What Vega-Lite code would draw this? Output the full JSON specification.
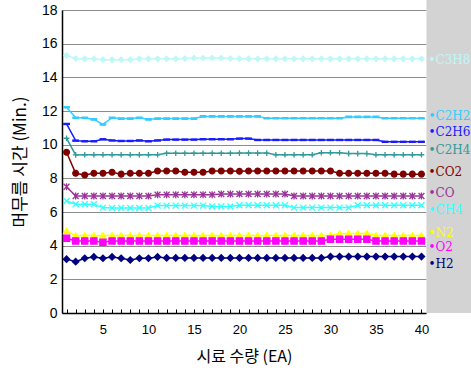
{
  "$schema": "https://vega.github.io/schema/vega-lite/v6.json",
  "width": 364,
  "height": 303,
  "autosize": {"type": "none"},
  "padding": {"left": 62, "top": 10, "right": 45, "bottom": 58},
  "background": "white",
  "config": {"view": {"stroke": null}, "axis": {"labelOverlap": false, "labelFlush": false, "labelBound": false}},
  "datasets": {
    "wide": [
      {"x":1,"C3H8":15.3,"C2H2":12.22,"C2H6":11.23,"C2H4":10.38,"CO2":9.55,"CO":7.5,"CH4":6.65,"N2":4.87,"O2":4.44,"H2":3.2},
      {"x":2,"C3H8":15.12,"C2H2":11.6,"C2H6":10.24,"C2H4":9.39,"CO2":8.3,"CO":6.95,"CH4":6.46,"N2":4.6,"O2":4.28,"H2":3.05},
      {"x":3,"C3H8":15.1,"C2H2":11.6,"C2H6":10.2,"C2H4":9.4,"CO2":8.2,"CO":6.95,"CH4":6.46,"N2":4.6,"O2":4.28,"H2":3.25},
      {"x":4,"C3H8":15.1,"C2H2":11.5,"C2H6":10.2,"C2H4":9.4,"CO2":8.3,"CO":6.95,"CH4":6.46,"N2":4.6,"O2":4.28,"H2":3.33},
      {"x":5,"C3H8":15.05,"C2H2":11.2,"C2H6":10.32,"C2H4":9.4,"CO2":8.3,"CO":6.95,"CH4":6.26,"N2":4.6,"O2":4.2,"H2":3.25},
      {"x":6,"C3H8":15.05,"C2H2":11.6,"C2H6":10.25,"C2H4":9.4,"CO2":8.36,"CO":6.95,"CH4":6.24,"N2":4.6,"O2":4.28,"H2":3.33},
      {"x":7,"C3H8":15.05,"C2H2":11.55,"C2H6":10.22,"C2H4":9.4,"CO2":8.25,"CO":6.95,"CH4":6.24,"N2":4.6,"O2":4.28,"H2":3.25},
      {"x":8,"C3H8":15.05,"C2H2":11.55,"C2H6":10.22,"C2H4":9.4,"CO2":8.3,"CO":6.95,"CH4":6.24,"N2":4.6,"O2":4.28,"H2":3.15},
      {"x":9,"C3H8":15.1,"C2H2":11.6,"C2H6":10.25,"C2H4":9.4,"CO2":8.3,"CO":6.95,"CH4":6.24,"N2":4.6,"O2":4.28,"H2":3.25},
      {"x":10,"C3H8":15.1,"C2H2":11.5,"C2H6":10.2,"C2H4":9.4,"CO2":8.3,"CO":6.95,"CH4":6.24,"N2":4.6,"O2":4.28,"H2":3.25},
      {"x":11,"C3H8":15.1,"C2H2":11.55,"C2H6":10.25,"C2H4":9.4,"CO2":8.44,"CO":7.03,"CH4":6.38,"N2":4.6,"O2":4.28,"H2":3.33},
      {"x":12,"C3H8":15.1,"C2H2":11.55,"C2H6":10.3,"C2H4":9.49,"CO2":8.44,"CO":7.03,"CH4":6.38,"N2":4.6,"O2":4.28,"H2":3.27},
      {"x":13,"C3H8":15.1,"C2H2":11.55,"C2H6":10.3,"C2H4":9.49,"CO2":8.44,"CO":7.03,"CH4":6.38,"N2":4.6,"O2":4.28,"H2":3.27},
      {"x":14,"C3H8":15.12,"C2H2":11.55,"C2H6":10.3,"C2H4":9.49,"CO2":8.36,"CO":7.03,"CH4":6.38,"N2":4.6,"O2":4.28,"H2":3.27},
      {"x":15,"C3H8":15.15,"C2H2":11.55,"C2H6":10.3,"C2H4":9.49,"CO2":8.36,"CO":7.03,"CH4":6.38,"N2":4.6,"O2":4.28,"H2":3.27},
      {"x":16,"C3H8":15.15,"C2H2":11.68,"C2H6":10.32,"C2H4":9.49,"CO2":8.36,"CO":7.03,"CH4":6.38,"N2":4.6,"O2":4.28,"H2":3.27},
      {"x":17,"C3H8":15.15,"C2H2":11.68,"C2H6":10.32,"C2H4":9.49,"CO2":8.44,"CO":7.03,"CH4":6.33,"N2":4.6,"O2":4.28,"H2":3.27},
      {"x":18,"C3H8":15.15,"C2H2":11.68,"C2H6":10.32,"C2H4":9.49,"CO2":8.44,"CO":7.07,"CH4":6.33,"N2":4.6,"O2":4.28,"H2":3.27},
      {"x":19,"C3H8":15.12,"C2H2":11.68,"C2H6":10.32,"C2H4":9.49,"CO2":8.44,"CO":7.07,"CH4":6.33,"N2":4.6,"O2":4.28,"H2":3.27},
      {"x":20,"C3H8":15.1,"C2H2":11.68,"C2H6":10.36,"C2H4":9.5,"CO2":8.42,"CO":7.07,"CH4":6.4,"N2":4.6,"O2":4.28,"H2":3.27},
      {"x":21,"C3H8":15.1,"C2H2":11.68,"C2H6":10.36,"C2H4":9.5,"CO2":8.44,"CO":7.07,"CH4":6.4,"N2":4.6,"O2":4.28,"H2":3.27},
      {"x":22,"C3H8":15.1,"C2H2":11.68,"C2H6":10.28,"C2H4":9.5,"CO2":8.44,"CO":7.07,"CH4":6.4,"N2":4.6,"O2":4.28,"H2":3.27},
      {"x":23,"C3H8":15.1,"C2H2":11.57,"C2H6":10.28,"C2H4":9.5,"CO2":8.44,"CO":7.07,"CH4":6.4,"N2":4.6,"O2":4.28,"H2":3.27},
      {"x":24,"C3H8":15.1,"C2H2":11.57,"C2H6":10.28,"C2H4":9.4,"CO2":8.44,"CO":7.07,"CH4":6.4,"N2":4.6,"O2":4.28,"H2":3.27},
      {"x":25,"C3H8":15.1,"C2H2":11.57,"C2H6":10.28,"C2H4":9.4,"CO2":8.44,"CO":7.07,"CH4":6.4,"N2":4.6,"O2":4.28,"H2":3.27},
      {"x":26,"C3H8":15.1,"C2H2":11.57,"C2H6":10.28,"C2H4":9.4,"CO2":8.44,"CO":6.95,"CH4":6.26,"N2":4.6,"O2":4.28,"H2":3.27},
      {"x":27,"C3H8":15.1,"C2H2":11.57,"C2H6":10.28,"C2H4":9.4,"CO2":8.44,"CO":6.95,"CH4":6.26,"N2":4.6,"O2":4.28,"H2":3.27},
      {"x":28,"C3H8":15.1,"C2H2":11.57,"C2H6":10.28,"C2H4":9.4,"CO2":8.44,"CO":6.95,"CH4":6.26,"N2":4.6,"O2":4.28,"H2":3.27},
      {"x":29,"C3H8":15.1,"C2H2":11.57,"C2H6":10.28,"C2H4":9.52,"CO2":8.44,"CO":6.95,"CH4":6.26,"N2":4.6,"O2":4.28,"H2":3.27},
      {"x":30,"C3H8":15.1,"C2H2":11.57,"C2H6":10.28,"C2H4":9.52,"CO2":8.44,"CO":6.95,"CH4":6.26,"N2":4.6,"O2":4.38,"H2":3.35},
      {"x":31,"C3H8":15.1,"C2H2":11.57,"C2H6":10.28,"C2H4":9.52,"CO2":8.3,"CO":6.95,"CH4":6.26,"N2":4.73,"O2":4.38,"H2":3.35},
      {"x":32,"C3H8":15.1,"C2H2":11.65,"C2H6":10.28,"C2H4":9.47,"CO2":8.3,"CO":6.95,"CH4":6.26,"N2":4.73,"O2":4.38,"H2":3.35},
      {"x":33,"C3H8":15.1,"C2H2":11.65,"C2H6":10.28,"C2H4":9.47,"CO2":8.3,"CO":6.95,"CH4":6.4,"N2":4.73,"O2":4.38,"H2":3.35},
      {"x":34,"C3H8":15.1,"C2H2":11.65,"C2H6":10.28,"C2H4":9.47,"CO2":8.3,"CO":6.95,"CH4":6.4,"N2":4.73,"O2":4.38,"H2":3.35},
      {"x":35,"C3H8":15.1,"C2H2":11.65,"C2H6":10.28,"C2H4":9.4,"CO2":8.3,"CO":6.95,"CH4":6.4,"N2":4.6,"O2":4.28,"H2":3.35},
      {"x":36,"C3H8":15.1,"C2H2":11.57,"C2H6":10.17,"C2H4":9.4,"CO2":8.3,"CO":6.95,"CH4":6.4,"N2":4.6,"O2":4.28,"H2":3.35},
      {"x":37,"C3H8":15.1,"C2H2":11.57,"C2H6":10.17,"C2H4":9.4,"CO2":8.25,"CO":6.95,"CH4":6.4,"N2":4.6,"O2":4.28,"H2":3.35},
      {"x":38,"C3H8":15.1,"C2H2":11.57,"C2H6":10.17,"C2H4":9.4,"CO2":8.25,"CO":6.95,"CH4":6.4,"N2":4.6,"O2":4.28,"H2":3.35},
      {"x":39,"C3H8":15.1,"C2H2":11.57,"C2H6":10.17,"C2H4":9.4,"CO2":8.25,"CO":6.95,"CH4":6.4,"N2":4.6,"O2":4.28,"H2":3.35},
      {"x":40,"C3H8":15.1,"C2H2":11.57,"C2H6":10.17,"C2H4":9.4,"CO2":8.25,"CO":6.95,"CH4":6.4,"N2":4.6,"O2":4.28,"H2":3.35}
    ],
    "labels": [
      {"series":"C3H8","text":"•C3H8","x":40,"y":15.03},
      {"series":"C2H2","text":"•C2H2","x":40,"y":11.7},
      {"series":"C2H6","text":"•C2H6","x":40,"y":10.76},
      {"series":"C2H4","text":"•C2H4","x":40,"y":9.68},
      {"series":"CO2","text":"•CO2","x":40,"y":8.38},
      {"series":"CO","text":"•CO","x":40,"y":7.13},
      {"series":"CH4","text":"•CH4","x":40,"y":6.12},
      {"series":"N2","text":"•N2","x":40,"y":4.75},
      {"series":"O2","text":"•O2","x":40,"y":3.92},
      {"series":"H2","text":"•H2","x":40,"y":2.91}
    ]
  },
  "layer": [
    {
      "data": {"values": [{}]},
      "mark": {"type": "rect", "color": "#d3d3d3"},
      "encoding": {
        "x": {"datum": 40.55, "type": "quantitative"},
        "x2": {"datum": 45.5},
        "y": {"datum": 0, "type": "quantitative"},
        "y2": {"datum": 18.6}
      }
    },
    {
      "data": {"name": "wide"},
      "transform": [{"fold": ["C3H8","C2H2","C2H6","C2H4","CO2","CO","CH4","N2","O2","H2"], "as": ["series", "value"]}],
      "encoding": {
        "x": {"field": "x", "type": "quantitative", "scale": {"domain": [0.5, 40.5], "nice": false, "zero": false},
          "axis": {"values": [1,2,3,4,5,6,7,8,9,10,11,12,13,14,15,16,17,18,19,20,21,22,23,24,25,26,27,28,29,30,31,32,33,34,35,36,37,38,39,40],
            "tickCount": 100, "format": "d",
            "labelExpr": "datum.value % 5 === 0 ? datum.label : ''", "labelOverlap": false,
            "title": "시료 수량 (EA)", "titleFont": "Noto Sans CJK KR", "titleFontSize": 16, "titleFontWeight": "normal", "titleColor": "#000",
            "titlePadding": 12,
            "labelFont": "Liberation Sans", "labelFontSize": 13, "labelColor": "#000", "labelPadding": 14,
            "tickSize": -4, "tickColor": "#000", "tickWidth": 1, "domainColor": "#000", "domainWidth": 1.5, "grid": false}},
        "y": {"field": "value", "type": "quantitative", "scale": {"domain": [0, 18], "nice": false},
          "axis": {"values": [0,2,4,6,8,10,12,14,16,18], "tickCount": 20, "format": "d", "grid": true, "gridColor": "#8c8c8c", "gridWidth": 1, "labelOverlap": false,
            "title": "머무름 시간 (Min.)", "titleFont": "Noto Sans CJK KR", "titleFontSize": 17, "titleFontWeight": "normal", "titleColor": "#000",
            "titlePadding": 12,
            "labelFont": "Liberation Sans", "labelFontSize": 14, "labelColor": "#000", "labelPadding": 5,
            "tickSize": 0, "domainColor": "#000", "domainWidth": 1.5}}
      },
      "layer": [
        {
          "mark": {"type": "line", "strokeWidth": 1.5},
          "encoding": {
            "color": {"field": "series", "type": "nominal", "legend": null,
              "scale": {"domain": ["C3H8","C2H2","C2H6","C2H4","CO2","CO","CH4","N2","O2","H2"],
                "range": ["#c0f8f8","#33ccff","#1a1aff","#339999","#800000","#993399","#33ffff","#ffff00","#ff00ff","#000080"]}},
            "detail": {"field": "series"}
          }
        },
        {
          "mark": {"type": "point", "filled": true, "opacity": 1, "strokeWidth": 1.3},
          "encoding": {
            "color": {"field": "series", "type": "nominal", "legend": null},
            "stroke": {"field": "series", "type": "nominal", "legend": null,
              "scale": {"domain": ["C3H8","C2H2","C2H6","C2H4","CO2","CO","CH4","N2","O2","H2"],
                "range": ["#c0f8f8","#33ccff","#1a1aff","#339999","#800000","#993399","#33ffff","#ffff00","#ff00ff","#000080"]}},
            "shape": {"field": "series", "type": "nominal", "legend": null,
              "scale": {"domain": ["C3H8","C2H2","C2H6","C2H4","CO2","CO","CH4","N2","O2","H2"],
                "range": ["diamond","M-1,-0.25L1,-0.25L1,0.25L-1,0.25Z","M-1,-0.2L1,-0.2L1,0.2L-1,0.2Z","M-1,0L1,0M0,-1L0,1","circle","M-1,-1L1,1M-1,1L1,-1M0,-1.2L0,1.2","M-1,-1L1,1M-1,1L1,-1","triangle-up","square","diamond"]}},
            "size": {"field": "series", "type": "nominal", "legend": null,
              "scale": {"domain": ["C3H8","C2H2","C2H6","C2H4","CO2","CO","CH4","N2","O2","H2"],
                "range": [28, 40, 20, 36, 32, 28, 28, 32, 26, 32]}}
          }
        }
      ]
    },
    {
      "data": {"name": "labels"},
      "mark": {"type": "text", "align": "left", "baseline": "middle", "dx": 7, "font": "DejaVu Serif", "fontSize": 12},
      "encoding": {
        "x": {"field": "x", "type": "quantitative"},
        "y": {"field": "y", "type": "quantitative"},
        "text": {"field": "text"},
        "color": {"field": "series", "type": "nominal", "legend": null}
      }
    }
  ],
  "resolve": {"scale": {"color": "shared"}}
}
